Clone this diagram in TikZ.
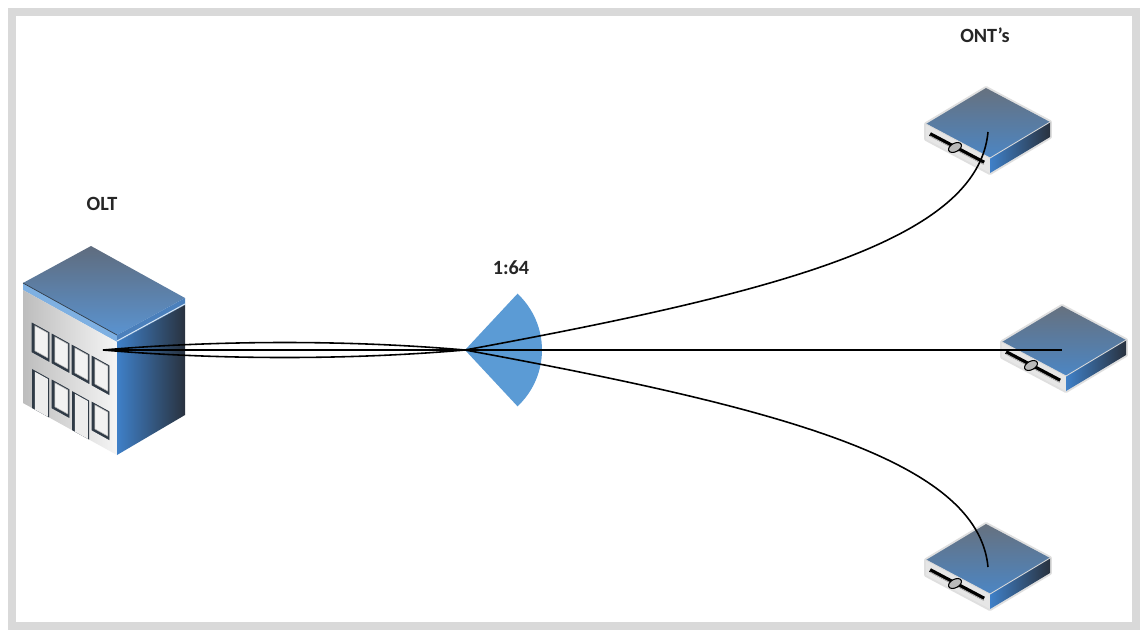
\documentclass[tikz,border=0pt]{standalone}
\usepackage{fontspec}
\setmainfont{Carlito}
\usetikzlibrary{calc}

\definecolor{framegray}{HTML}{D9D9D9}
\definecolor{splitblue}{HTML}{5B9BD5}
\definecolor{roofback}{HTML}{5F6C7E}
\definecolor{rooffront}{HTML}{5A93D0}
\definecolor{slabfront}{HTML}{7EB0E2}
\definecolor{slabside}{HTML}{4B80BC}
\definecolor{sidelight}{HTML}{3F80C8}
\definecolor{sidedark}{HTML}{29323F}
\definecolor{walllight}{HTML}{F5F5F5}
\definecolor{walldark}{HTML}{BDBDBD}
\definecolor{topdark}{HTML}{66717F}
\definecolor{topblue}{HTML}{4C86C4}
\definecolor{frontgray}{HTML}{E6E6E6}
\definecolor{slate}{HTML}{2F3A46}

\tikzset{
  lbl/.style={font=\bfseries\fontsize{11.5pt}{13pt}\selectfont, text=black!85, inner sep=0pt},
  fiber/.style={draw=black, line width=0.9pt},
  winframe/.style={fill=slate, draw=slate, line width=0.3pt},
  winpane/.style={fill=gray!10, draw=gray!60, line width=0.3pt},
  doorframe/.style={fill=slate},
  doorpane/.style={fill=gray!14},
  halo/.style={draw=gray!25, line width=2.2pt, line join=round},
}

% isometric customer unit; #1 = top corner of the lid
\newcommand{\ontunit}[1]{%
  \begin{scope}[shift={#1}]
    \draw[halo] (0,0) -- (64,34) -- (64,49) -- (4,85) -- (-60,51) -- (-60,36) -- cycle;
    % lid
    \shade[top color=topdark, bottom color=topblue]
      (0,0) -- (64,34) -- (4,70) -- (-60,36) -- cycle;
    % front panel
    \fill[frontgray] (-60,36) -- (4,70) -- (4,85) -- (-60,51) -- cycle;
    % side panel
    \shade[left color=sidelight, right color=sidedark]
      (4,70) -- (64,34) -- (64,49) -- (4,85) -- cycle;
    \draw[white!70!gray, line width=0.5pt] (-60,36) -- (4,70) -- (64,34);
    % drive slot with eject knob
    \draw[black, line width=2.2pt] (-56,46) -- (-2,74.5);
    \draw[gray!60, line width=0.5pt] (-56,48) -- (-2,76.5);
    \fill[gray!55, draw=black, line width=0.6pt, rotate around={28:(-31,59.5)}]
      (-31,59.5) ellipse [x radius=7, y radius=4.2];
  \end{scope}}

\begin{document}
\begin{tikzpicture}[x=0.02cm, y=-0.02cm]
  \useasboundingbox (0,0) rectangle (1140,630);
  % frame
  \fill[framegray] (8,8) rectangle (1140,630);
  \fill[white] (16,16) rectangle (1132,622);

  % ---------- central office building ----------
  \shade[top color=roofback, bottom color=rooffront]
    (23,283) -- (91,246) -- (185,298) -- (117,335) -- cycle;
  \fill[slabfront] (23,283) -- (117,335) -- (117,342) -- (23,290) -- cycle;
  \fill[slabside] (117,335) -- (185,298) -- (185,305) -- (117,342) -- cycle;
  \draw[slate, line width=0.4pt] (23,283) -- (117,335);
  \draw[white!75!splitblue, line width=0.6pt] (117,341) -- (185,304);
  \shade[left color=walldark, right color=walllight]
    (23,290) -- (117,342) -- (117,455) -- (23,403) -- cycle;
  \shade[left color=sidelight, right color=sidedark]
    (117,342) -- (185,305) -- (185,415) -- (117,455) -- cycle;

  \begin{scope}[shift={(23,290)}, yslant=-0.553]
    % upper row of windows
    \foreach \u in {9,29,49,69} {
      \path[winframe] (\u,28) -- ++(17,0) -- ++(0,29) -- ++(-17,0) -- cycle;
      \path[winpane] (\u+2.8,29.2) -- ++(13,0) -- ++(0,25) -- ++(-13,0) -- cycle;
    }
    % doors
    \foreach \u in {9,49} {
      \path[doorframe] (\u,113) -- ++(0,-39) -- ++(17,0) -- ++(0,39) -- cycle;
      \path[doorpane] (\u+2.8,113) -- ++(0,-37.8) -- ++(13,0) -- ++(0,37.8) -- cycle;
    }
    % lower row of windows
    \foreach \u in {29,69} {
      \path[winframe] (\u,74) -- ++(17,0) -- ++(0,28) -- ++(-17,0) -- cycle;
      \path[winpane] (\u+2.8,75.2) -- ++(13,0) -- ++(0,24) -- ++(-13,0) -- cycle;
    }
  \end{scope}

  % ---------- splitter ----------
  \coordinate (split) at (465,350);
  \fill[splitblue] (split) -- ($(split)+(-47:77)$)
    arc[start angle=-47, end angle=47, radius=77] -- cycle;

  % ---------- customer units ----------
  \ontunit{(986,88)}
  \ontunit{(1062,306)}
  \ontunit{(986,524)}

  % ---------- fibre ends ----------
  \coordinate (olt) at (103,350);
  \coordinate (ont1) at (988,132);
  \coordinate (ont2) at (1062,350);
  \coordinate (ont3) at (988,567);

  \path[fiber] (olt) .. controls (220,340) and (350,340) .. (split);
  \path[fiber] (olt) -- (split);
  \path[fiber] (olt) .. controls (220,360) and (350,360) .. (split);
  \path[fiber] (split) .. controls (780,292) and (978,240) .. (ont1);
  \path[fiber] (split) -- (ont2);
  \path[fiber] (split) .. controls (780,408) and (978,460) .. (ont3);

  % ---------- labels ----------
  \node[lbl] (oltlabel) at (102,204) {OLT};
  \node[lbl] (ratio) at (511,268) {1:64};
  \node[lbl] (ontlabel) at (985,35) {ONT’s};
\end{tikzpicture}
\end{document}
